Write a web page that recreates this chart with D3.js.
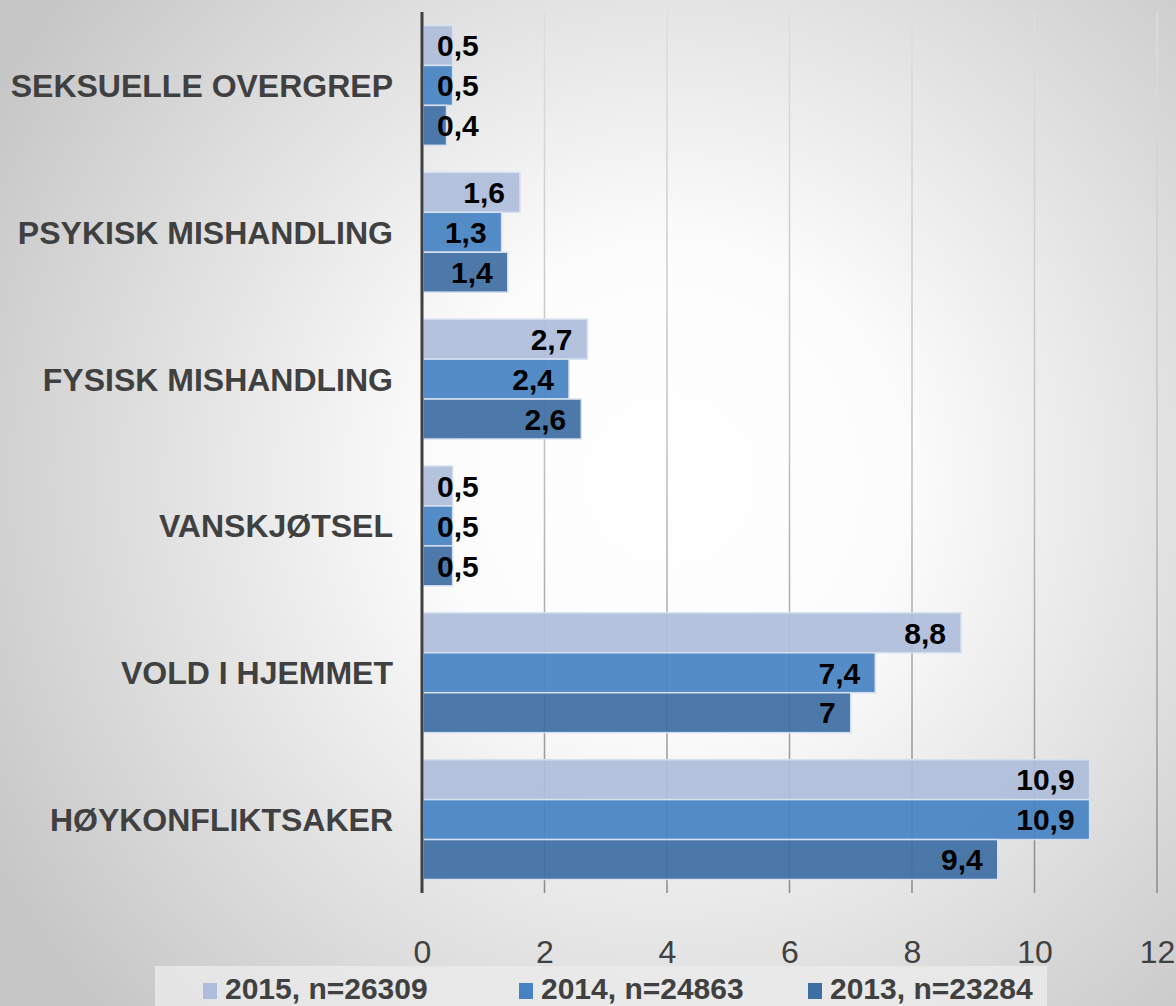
<!DOCTYPE html>
<html>
<head>
<meta charset="utf-8">
<script src="https://cdn.jsdelivr.net/npm/d3@7"></script>
<style>
  html, body { margin: 0; padding: 0; }
  body { width: 1176px; height: 1006px; overflow: hidden; }
  svg { display: block; font-family: "Liberation Sans", Arial, sans-serif; }
</style>
</head>
<body>
<script>
const categories = ["SEKSUELLE OVERGREP", "PSYKISK MISHANDLING", "FYSISK MISHANDLING", "VANSKJØTSEL", "VOLD I HJEMMET", "HØYKONFLIKTSAKER"];
const seriesNames = ["2015, n=26309", "2014, n=24863", "2013, n=23284"];
const values2015 = [0.5, 1.6, 2.7, 0.5, 8.8, 10.9];
const values2014 = [0.5, 1.3, 2.4, 0.5, 7.4, 10.9];
const values2013 = [0.4, 1.4, 2.6, 0.5, 7.0, 9.4];
const tickValues = [0, 2, 4, 6, 8, 10, 12];
const colors = ["#AFBDDC", "#4783C4", "#3E6FA3"];

const seriesValues = [values2015, values2014, values2013];
const W = 1176, H = 1006;
const plot = { left: 422, right: 1157, top: 12, bottom: 893 };

const svg = d3.select("body").append("svg").attr("width", W).attr("height", H);
const defs = svg.append("defs");
const bg = defs.append("radialGradient").attr("id", "bg")
  .attr("gradientUnits", "userSpaceOnUse").attr("cx", 670).attr("cy", 480).attr("r", 780);
bg.append("stop").attr("offset", 0).attr("stop-color", "#ffffff");
bg.append("stop").attr("offset", 0.3).attr("stop-color", "#fcfcfc");
bg.append("stop").attr("offset", 1).attr("stop-color", "#c6c6c6");
const gg = defs.append("linearGradient").attr("id", "grid")
  .attr("gradientUnits", "userSpaceOnUse").attr("x1", 0).attr("y1", plot.top).attr("x2", 0).attr("y2", plot.bottom);
gg.append("stop").attr("offset", 0).attr("stop-color", "#dedede");
gg.append("stop").attr("offset", 0.5).attr("stop-color", "#c0c0c0");
gg.append("stop").attr("offset", 1).attr("stop-color", "#8a8a8a");

svg.append("rect").attr("width", W).attr("height", H).attr("fill", "url(#bg)");

const x = d3.scaleLinear().domain([0, 12]).range([plot.left, plot.right]);
const y = d3.scaleBand().domain(categories).range([plot.top, plot.bottom]).paddingInner(0.184).paddingOuter(0.092);
const ySub = d3.scaleBand().domain(d3.range(seriesNames.length)).range([0, y.bandwidth()]);

// gridlines
svg.append("g").selectAll("line").data(tickValues.filter(t => t > 0)).join("line")
  .attr("x1", d => x(d)).attr("x2", d => x(d))
  .attr("y1", plot.top).attr("y2", plot.bottom)
  .attr("stroke", "url(#grid)").attr("stroke-width", 1.5);

// x tick labels via axis
const xAxis = svg.append("g").attr("transform", `translate(0,${plot.bottom})`)
  .call(d3.axisBottom(x).tickValues(tickValues).tickSize(0).tickPadding(47).tickFormat(d3.format("d")));
xAxis.select(".domain").remove();
xAxis.selectAll("text").attr("font-size", 32).attr("fill", "#404040")
  .attr("font-family", "Liberation Sans, Arial, sans-serif");

// bars
const groups = svg.append("g").selectAll("g").data(categories).join("g")
  .attr("transform", d => `translate(0,${y(d)})`);

groups.each(function(cat, ci) {
  const g = d3.select(this);
  seriesValues.forEach((vals, si) => {
    const v = vals[ci];
    g.append("rect")
      .attr("x", x(0) + 1).attr("y", ySub(si))
      .attr("width", x(v) - x(0) - 1).attr("height", ySub.bandwidth())
      .attr("fill", colors[si]).attr("fill-opacity", 0.93)
      .attr("stroke", "#d6e0f0").attr("stroke-width", 1.5);
  });
  seriesValues.forEach((vals, si) => {
    const v = vals[ci];
    const t = g.append("text")
      .attr("y", ySub(si) + ySub.bandwidth() / 2)
      .attr("dy", "0.36em")
      .attr("font-size", 30).attr("font-weight", "bold").attr("fill", "#000")
      .attr("text-anchor", "end")
      .text(String(v).replace(".", ","));
    const w = t.node().getComputedTextLength();
    const xe = Math.max(x(v) - 15, x(0) + 15 + w);
    t.attr("x", xe);
  });
});

// category labels
svg.append("g").selectAll("text").data(categories).join("text")
  .attr("x", 393).attr("y", d => y(d) + y.bandwidth() / 2).attr("dy", "0.36em")
  .attr("text-anchor", "end").attr("font-size", 32).attr("font-weight", "bold").attr("fill", "#404040")
  .text(d => d);

// vertical axis line
svg.append("line").attr("x1", x(0)).attr("x2", x(0)).attr("y1", plot.top).attr("y2", plot.bottom)
  .attr("stroke", "#404040").attr("stroke-width", 3);

// legend
svg.append("rect").attr("x", 155).attr("y", 966).attr("width", 892).attr("height", 40).attr("fill", "#ebebeb").attr("fill-opacity", 0.8);
const legendX = [203, 519, 808];
const leg = svg.append("g").selectAll("g").data(seriesNames).join("g")
  .attr("transform", (d, i) => `translate(${legendX[i]},0)`);
leg.append("rect").attr("x", 0).attr("y", 983).attr("width", 14).attr("height", 16).attr("fill", (d, i) => colors[i]);
leg.append("text").attr("x", 22).attr("y", 999).attr("font-size", 30).attr("font-weight", "bold").attr("fill", "#404040")
  .text(d => d);
</script>
</body>
</html>
